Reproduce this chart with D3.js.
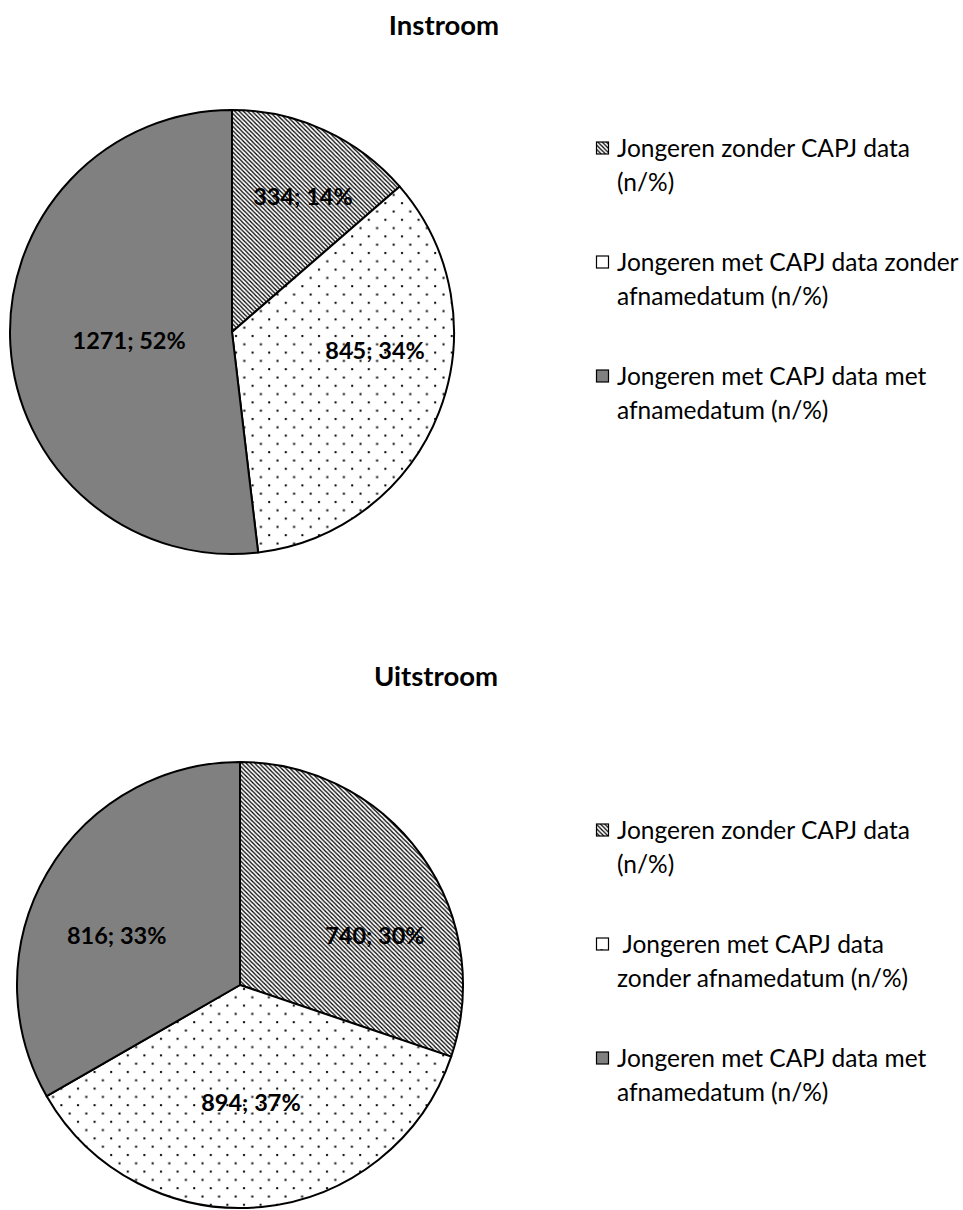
<!DOCTYPE html>
<html>
<head>
<meta charset="utf-8">
<script src="https://cdn.jsdelivr.net/npm/d3@7"></script>
<style>
  html, body { margin: 0; padding: 0; background: #ffffff; }
  svg { display: block; }
</style>
</head>
<body>
<div id="chart"></div>
<script>
// Categories shared by both pies (legend text split into lines)
const categories = [
  "Jongeren zonder CAPJ data (n/%)",
  "Jongeren met CAPJ data zonder afnamedatum (n/%)",
  "Jongeren met CAPJ data met afnamedatum (n/%)"
];
const legendLinesIn = [
  ["Jongeren zonder CAPJ data", "(n/%)"],
  ["Jongeren met CAPJ data zonder", "afnamedatum (n/%)"],
  ["Jongeren met CAPJ data met", "afnamedatum (n/%)"]
];
const legendLinesUit = [
  ["Jongeren zonder CAPJ data", "(n/%)"],
  ["\u00a0Jongeren met CAPJ data", "zonder afnamedatum (n/%)"],
  ["Jongeren met CAPJ data met", "afnamedatum (n/%)"]
];

// Counts and percentages per category
const instroomN = [334, 845, 1271];
const instroomPct = [14, 34, 52];
const uitstroomN = [740, 894, 816];
const uitstroomPct = [30, 37, 33];

const titles = ["Instroom", "Uitstroom"];

// Layout
const W = 963, H = 1210;
const FONT = "Lato, 'Open Sans', 'DejaVu Sans', sans-serif";

const charts = [
  {
    title: titles[0], n: instroomN, pct: instroomPct, legend: legendLinesIn,
    titleX: 444, titleY: 35, cx: 232, cy: 332, r: 222,
    // label anchor: angle (deg, clockwise from top) and radius fraction
    labelAngle: [27.6, 97.5, 265], labelRad: [0.69, 0.65, 0.465],
    legendY: [157, 271, 385]
  },
  {
    title: titles[1], n: uitstroomN, pct: uitstroomPct, legend: legendLinesUit,
    titleX: 436, titleY: 686, cx: 240, cy: 985, r: 223,
    labelAngle: [69.7, 174.7, 291.7], labelRad: [0.645, 0.53, 0.595],
    legendY: [839, 953, 1067]
  }
];

const svg = d3.select("#chart").append("svg")
  .attr("width", W).attr("height", H)
  .attr("viewBox", `0 0 ${W} ${H}`);

// Fill patterns: diagonal hatch, dotted, and solid grey
const defs = svg.append("defs");
const hatch = defs.append("pattern")
  .attr("id", "hatch").attr("patternUnits", "userSpaceOnUse")
  .attr("width", 4.3).attr("height", 4.3);
hatch.append("rect").attr("width", 4.3).attr("height", 4.3).attr("fill", "#fff");
hatch.append("path")
  .attr("d", "M-1,-1 L5.3,5.3 M-1,3.3 L1,5.3 M3.3,-1 L5.3,1")
  .attr("stroke", "#000").attr("stroke-width", 1.25);

const dots = defs.append("pattern")
  .attr("id", "dots").attr("patternUnits", "userSpaceOnUse")
  .attr("width", 16.6).attr("height", 16.6);
dots.append("rect").attr("width", 16.6).attr("height", 16.6).attr("fill", "#fff");
dots.append("rect").attr("x", 3).attr("y", 3).attr("width", 2).attr("height", 2).attr("fill", "#000");
dots.append("rect").attr("x", 11.3).attr("y", 11.3).attr("width", 2).attr("height", 2).attr("fill", "#000");

const fills = ["url(#hatch)", "url(#dots)", "#808080"];
const color = d3.scaleOrdinal().domain(categories).range(fills);

const pie = d3.pie().sort(null).value(d => d.n);

charts.forEach(c => {
  const data = categories.map((cat, i) => ({ cat, n: c.n[i], pct: c.pct[i], i }));
  const arcs = pie(data);
  const arc = d3.arc().innerRadius(0).outerRadius(c.r);

  svg.append("text")
    .attr("x", c.titleX).attr("y", c.titleY)
    .attr("text-anchor", "middle")
    .attr("font-family", FONT).attr("font-weight", "bold")
    .attr("font-size", 27.5).attr("fill", "#000")
    .text(c.title);

  const g = svg.append("g").attr("transform", `translate(${c.cx},${c.cy})`);

  g.selectAll("path.slice").data(arcs).enter().append("path")
    .attr("class", "slice")
    .attr("d", arc)
    .attr("fill", d => color(d.data.cat))
    .attr("stroke", "#000").attr("stroke-width", 2)
    .attr("stroke-linejoin", "round");

  g.selectAll("text.lbl").data(arcs).enter().append("text")
    .attr("class", "lbl")
    .attr("x", d => Math.sin(c.labelAngle[d.index] * Math.PI / 180) * c.r * c.labelRad[d.index])
    .attr("y", d => -Math.cos(c.labelAngle[d.index] * Math.PI / 180) * c.r * c.labelRad[d.index])
    .attr("dy", "0.36em")
    .attr("text-anchor", "middle")
    .attr("font-family", FONT).attr("font-weight", "bold")
    .attr("font-size", 23.5).attr("fill", "#000")
    .text(d => `${d.data.n}; ${d.data.pct}%`);

  // Legend
  const lg = svg.append("g");
  categories.forEach((cat, i) => {
    const y = c.legendY[i];
    lg.append("rect")
      .attr("x", 596.5).attr("y", y - 15)
      .attr("width", 12).attr("height", 12)
      .attr("fill", color(cat))
      .attr("stroke", "#000").attr("stroke-width", 1.2);
    const t = lg.append("text")
      .attr("font-family", FONT).attr("font-size", 24.5).attr("fill", "#000");
    c.legend[i].forEach((line, k) => {
      t.append("tspan").attr("x", 617).attr("y", y + k * 34).text(line);
    });
  });
});
</script>
</body>
</html>
